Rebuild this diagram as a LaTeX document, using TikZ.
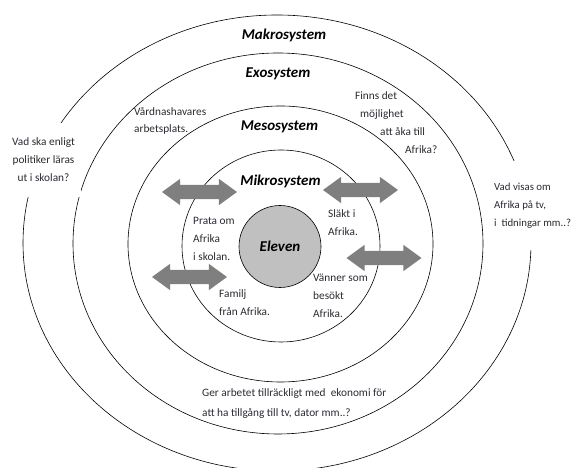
\documentclass[tikz,border=0pt]{standalone}
\usepackage{fontspec}
\setmainfont{Carlito}
\usetikzlibrary{shapes.arrows}
\definecolor{arrowgray}{HTML}{7F7F7F}
\definecolor{elevgray}{HTML}{C0C0C0}
\definecolor{notegray}{HTML}{2A2A33}
\begin{document}
\begin{tikzpicture}[x=1pt,y=1pt,
    ring/.style={draw=black,line width=0.6pt},
    sysname/.style={font=\fontsize{15}{18}\selectfont\bfseries\itshape},
    note/.style={text=notegray,font=\fontsize{11.3}{18}\selectfont,inner sep=0pt,align=left,anchor=west},
    biarrow/.style={double arrow,fill=arrowgray,draw=none,inner sep=7pt,
      minimum height=75pt,minimum width=26pt,double arrow head extend=6pt,
      double arrow tip angle=72}]
  \useasboundingbox (0,0) rectangle (574,468);
  \draw[ring] (277,225) ellipse [x radius=254,y radius=228];
  \draw[ring] (278,224.5) ellipse [x radius=205,y radius=190.5];
  \draw[ring] (280.5,224) ellipse [x radius=152.5,y radius=138];
  \draw[ring] (281,222) ellipse [x radius=99,y radius=96];
  \node[circle,draw=black,line width=0.6pt,fill=elevgray,minimum size=82pt,inner sep=0pt,
    font=\fontsize{15}{18}\selectfont\bfseries\itshape] (elev) at (280,221.5) {Eleven};
  \draw
    (284,433) node[sysname] (makro){Makrosystem}
    (278,394) node[sysname] (exo){Exosystem}
    (279.5,341) node[sysname] (meso){Mesosystem}
    (280.5,287) node[sysname] (mikro){Mikrosystem};
  \node[note,align=center,anchor=center,fill=white,inner xsep=6pt,minimum height=74pt] (politik) at (43.5,308)
    {Vad ska enligt\\politiker läras\\ut i skolan?};
  \node[note,font=\fontsize{10.8}{18}\selectfont,fill=white,inner xsep=6pt,minimum height=89pt] (media) at (488,262)
    {Vad visas om\\Afrika på tv,\\i\ \ tidningar mm..?};
  \node[note,font=\fontsize{11.3}{17}\selectfont] (arbete) at (134,347.5) {Vårdnashavares\\arbetsplats.};
  \node[note] (resa) at (355,345)
    {Finns det\\\hspace*{5pt}möjlighet\\\hspace*{25pt}att åka till\\\hspace*{50pt}Afrika?};
  \node[note,font=\fontsize{11.3}{20}\selectfont] (ekonomi) at (202,64)
    {Ger arbetet tillräckligt med\ \ ekonomi för\\att ha tillgång till tv, dator mm..?};
  \node[note] (skola) at (193,229) {Prata om\\Afrika\\i skolan.};
  \node[note] (slakt) at (328,245.5) {Släkt i\\Afrika.};
  \node[note] (vanner) at (313,171.7) {Vänner som\\besökt\\Afrika.};
  \node[note] (familj) at (219,165) {Familj\\från Afrika.};
  \begin{scope}[every node/.style={biarrow}]
    \node (a1) at (199.5,276) {};
    \node (a2) at (360.5,278) {};
    \node (a3) at (384,210) {};
    \node (a4) at (189.5,191) {};
  \end{scope}
\end{tikzpicture}
\end{document}
